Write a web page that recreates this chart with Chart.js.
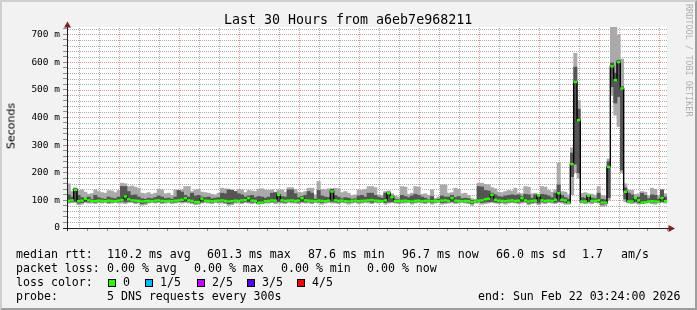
<!DOCTYPE html>
<html>
<head>
<meta charset="utf-8">
<title>Last 30 Hours from a6eb7e968211</title>
<script src="https://cdn.jsdelivr.net/npm/chart.js@4.4.1/dist/chart.umd.min.js"></script>
<style>
  html, body { margin: 0; padding: 0; }
  body { width: 697px; height: 310px; position: relative; overflow: hidden; background: #f2f2f2; font-family: "DejaVu Sans Mono", monospace; color: #000; }
  #frame { position: absolute; left: 0; top: 0; width: 697px; height: 310px; box-sizing: border-box; border-style: solid; border-width: 2px; border-color: #cfcfcf #9e9e9e #9e9e9e #cfcfcf; pointer-events: none; }
  #chart { position: absolute; left: 0; top: 0; }
  .txt { position: absolute; white-space: pre; font-size: 11.6px; line-height: 14px; }
  .title { position: absolute; left: 224px; top: 12px; font-size: 13.3px; line-height: 16px; white-space: pre; }
  .ylab { position: absolute; left: 11px; top: 126px; font-family: "DejaVu Sans", sans-serif; font-size: 11px; line-height: 13px; font-weight: normal; color: #000; white-space: pre; transform: translate(-50%, -50%) rotate(-90deg); }
  .credit { position: absolute; left: 684px; top: 4px; writing-mode: vertical-rl; font-size: 8.5px; color: #b0b0b0; white-space: pre; }
  .sw { position: absolute; top: 279px; width: 6px; height: 6px; border: 1px solid #000; }
</style>
</head>
<body>
<canvas id="chart" width="697" height="310"></canvas>
<div class="title">Last 30 Hours from a6eb7e968211</div>
<div class="ylab">Seconds</div>
<div class="credit">RRDTOOL / TOBI OETIKER</div>

<div class="txt" style="left:16px;top:247px">median rtt:</div>
<div class="txt" style="left:107px;top:247px">110.2 ms avg</div>
<div class="txt" style="left:207px;top:247px">601.3 ms max</div>
<div class="txt" style="left:308px;top:247px">87.6 ms min</div>
<div class="txt" style="left:402px;top:247px">96.7 ms now</div>
<div class="txt" style="left:496px;top:247px">66.0 ms sd</div>
<div class="txt" style="left:582px;top:247px">1.7</div>
<div class="txt" style="left:621px;top:247px">am/s</div>

<div class="txt" style="left:16px;top:261px">packet loss:</div>
<div class="txt" style="left:107px;top:261px">0.00 % avg</div>
<div class="txt" style="left:194px;top:261px">0.00 % max</div>
<div class="txt" style="left:281px;top:261px">0.00 % min</div>
<div class="txt" style="left:367px;top:261px">0.00 % now</div>

<div class="txt" style="left:16px;top:275px">loss color:</div>
<div class="sw" style="left:108px;background:#26ff00"></div>
<div class="txt" style="left:123px;top:275px">0</div>
<div class="sw" style="left:145px;background:#00b8ff"></div>
<div class="txt" style="left:160px;top:275px">1/5</div>
<div class="sw" style="left:197px;background:#cc00ff"></div>
<div class="txt" style="left:212px;top:275px">2/5</div>
<div class="sw" style="left:247px;background:#5500ff"></div>
<div class="txt" style="left:262px;top:275px">3/5</div>
<div class="sw" style="left:297px;background:#ff0000"></div>
<div class="txt" style="left:312px;top:275px">4/5</div>

<div class="txt" style="left:16px;top:289px">probe:</div>
<div class="txt" style="left:107px;top:289px">5 DNS requests every 300s</div>
<div class="txt" style="left:478px;top:289px">end: Sun Feb 22 03:24:00 2026</div>
<div id="frame"></div>

<script>
// time in minutes after Fri 00:00, one bin every 10 minutes
const startMinute = 1284;   // Fri 21:24
const endMinute = 3084;     // Sun 03:24
const stepMinutes = 10;

const medianRtt = [
  98, 100, 138, 97, 99, 106, 100, 98, 97, 99,
  98, 97, 99, 98, 97, 99, 101, 114, 104, 100,
  99, 98, 96, 97, 98, 97, 99, 100, 98, 97,
  98, 97, 99, 100, 102, 108, 100, 98, 94, 94,
  106, 99, 98, 97, 98, 99, 100, 98, 96, 97,
  99, 98, 100, 101, 108, 99, 98, 91, 92, 97,
  98, 100, 99, 120, 100, 98, 99, 100, 98, 99,
  108, 100, 99, 98, 97, 99, 98, 97, 99, 132,
  100, 98, 99, 97, 96, 98, 99, 97, 98, 99,
  100, 101, 99, 98, 97, 100, 126, 112, 98, 97,
  98, 99, 97, 96, 98, 99, 97, 98, 99, 97,
  98, 97, 99, 100, 98, 108, 99, 98, 97, 98,
  97, 94, 96, 99, 100, 104, 106, 120, 102, 99,
  98, 97, 99, 100, 98, 99, 108, 100, 96, 98,
  99, 118, 100, 98, 99, 98, 102, 126, 102, 100,
  92, 231, 528, 390, 96, 96, 117, 98, 98, 100,
  92, 92, 221, 585, 535, 600, 505, 131, 96, 96,
  108, 100, 92, 93, 96, 97, 96, 95, 108, 97
];

// smoke: outer band (lowest to highest ping)
const smokeLow = [
  90, 92, 92, 84, 86, 92, 90, 90, 88, 92,
  90, 92, 88, 90, 92, 90, 90, 88, 92, 92,
  88, 90, 82, 84, 90, 92, 90, 92, 88, 90,
  92, 88, 90, 92, 90, 92, 90, 88, 84, 86,
  90, 92, 90, 88, 92, 90, 90, 88, 82, 84,
  90, 90, 88, 92, 90, 88, 90, 86, 88, 90,
  90, 92, 88, 90, 90, 88, 92, 90, 90, 88,
  92, 90, 90, 88, 92, 90, 86, 90, 92, 90,
  90, 88, 92, 90, 86, 90, 92, 88, 90, 92,
  90, 88, 92, 90, 92, 86, 90, 92, 90, 88,
  90, 90, 92, 86, 90, 92, 90, 88, 92, 86,
  90, 92, 86, 88, 90, 92, 88, 90, 92, 90,
  88, 82, 90, 90, 86, 88, 90, 92, 90, 88,
  90, 86, 90, 92, 90, 88, 90, 92, 84, 88,
  90, 84, 90, 88, 92, 90, 88, 92, 90, 86,
  86, 120, 200, 180, 90, 88, 90, 88, 92, 90,
  78, 80, 100, 480, 408, 367, 200, 95, 90, 88,
  90, 86, 88, 90, 92, 88, 86, 90, 92, 90
];

const smokeHigh = [
  160, 132, 144, 135, 138, 130, 122, 125, 138, 132,
  128, 126, 135, 134, 128, 136, 162, 160, 150, 152,
  148, 144, 126, 124, 128, 122, 126, 140, 138, 124,
  126, 118, 138, 136, 138, 150, 150, 132, 138, 140,
  130, 128, 126, 122, 120, 126, 144, 142, 140, 138,
  132, 140, 138, 128, 136, 134, 132, 140, 142, 138,
  136, 138, 130, 138, 138, 130, 146, 146, 140, 130,
  128, 132, 144, 144, 120, 168, 140, 138, 142, 142,
  144, 142, 128, 132, 126, 118, 120, 138, 136, 140,
  150, 150, 146, 120, 118, 132, 134, 124, 116, 112,
  150, 148, 122, 126, 150, 148, 122, 124, 118, 138,
  108, 112, 156, 156, 126, 128, 144, 140, 124, 126,
  118, 106, 104, 162, 162, 158, 156, 146, 142, 130,
  128, 132, 136, 134, 144, 126, 124, 150, 148, 124,
  126, 120, 150, 148, 136, 130, 138, 234, 132, 130,
  120, 290, 632, 462, 125, 128, 124, 122, 118, 150,
  118, 116, 250, 735, 735, 697, 611, 160, 138, 136,
  122, 124, 132, 130, 116, 144, 140, 118, 138, 124
];

// smoke: inner band (2nd to 4th ping)
const smokeInnerLow = [
  94, 95, 96, 90, 92, 95, 94, 95, 93, 95,
  94, 95, 93, 94, 95, 94, 96, 94, 96, 95,
  93, 94, 88, 90, 94, 95, 94, 95, 93, 94,
  95, 93, 94, 96, 95, 96, 95, 93, 90, 91,
  94, 95, 94, 93, 95, 94, 95, 93, 88, 90,
  94, 95, 93, 95, 94, 93, 94, 89, 90, 94,
  94, 95, 94, 95, 94, 93, 96, 95, 94, 93,
  95, 94, 95, 93, 95, 94, 92, 94, 95, 96,
  94, 93, 95, 94, 92, 94, 95, 93, 94, 95,
  95, 93, 95, 94, 95, 92, 94, 95, 94, 93,
  94, 95, 95, 92, 94, 95, 94, 93, 95, 92,
  94, 95, 92, 93, 94, 95, 93, 94, 95, 94,
  93, 88, 94, 95, 92, 94, 95, 96, 94, 93,
  94, 92, 94, 95, 94, 93, 95, 96, 90, 93,
  94, 90, 95, 93, 95, 94, 93, 96, 95, 92,
  90, 186, 231, 200, 94, 93, 95, 94, 95, 94,
  86, 88, 110, 511, 452, 475, 210, 105, 95, 94,
  95, 92, 90, 91, 96, 94, 92, 95, 96, 95
];

const smokeInnerHigh = [
  120, 112, 144, 118, 110, 106, 112, 104, 118, 110,
  106, 104, 112, 108, 106, 112, 150, 150, 132, 118,
  120, 112, 106, 104, 108, 106, 110, 116, 112, 106,
  108, 104, 112, 136, 130, 118, 112, 126, 116, 118,
  112, 110, 112, 106, 108, 110, 126, 124, 138, 136,
  132, 124, 120, 112, 116, 118, 110, 114, 112, 108,
  112, 126, 128, 120, 114, 112, 138, 138, 124, 110,
  114, 118, 132, 126, 104, 136, 116, 112, 110, 140,
  118, 112, 106, 110, 108, 104, 106, 116, 118, 112,
  126, 126, 118, 112, 108, 126, 130, 116, 104, 102,
  118, 114, 110, 116, 122, 118, 112, 108, 104, 114,
  102, 104, 116, 112, 112, 118, 110, 114, 106, 108,
  106, 100, 98, 150, 148, 136, 134, 126, 120, 114,
  112, 116, 118, 120, 118, 120, 114, 122, 120, 108,
  120, 118, 122, 120, 116, 110, 126, 156, 118, 110,
  104, 271, 582, 430, 110, 108, 118, 108, 106, 126,
  104, 102, 240, 597, 560, 607, 511, 145, 126, 120,
  110, 112, 126, 118, 106, 120, 118, 104, 138, 112
];

const xLabelMinutes = [1440, 1800, 2160, 2520, 2880];
const xLabelText = ['Sat 00:00', 'Sat 06:00', 'Sat 12:00', 'Sat 18:00', 'Sun 00:00'];
const yMax = 727;

const binX = medianRtt.map((_, i) => startMinute + stepMinutes * i + stepMinutes / 2);
const outerBand = binX.map((x, i) => ({ x: x, y: [smokeLow[i], smokeHigh[i]] }));
const innerBand = binX.map((x, i) => ({ x: x, y: [smokeInnerLow[i], smokeInnerHigh[i]] }));
const medianPts = binX.map((x, i) => ({ x: x, y: medianRtt[i] }));

// rrdtool default grid colours
const minorGrid = 'rgba(143,143,143,0.75)';
const majorGrid = 'rgba(222,79,79,0.6)';
const axisColor = '#1f1f1f';
const arrowColor = '#801f1f';

const rrdFrame = {
  id: 'rrdFrame',
  beforeDraw(chart) {
    const { ctx, chartArea: a } = chart;
    ctx.save();
    ctx.fillStyle = '#ffffff';
    ctx.fillRect(a.left, a.top, a.right - a.left, a.bottom - a.top);
    ctx.restore();
  },
  // dotted grid behind the smoke so the median stays bright green
  beforeDatasetsDraw(chart) {
    const { ctx, chartArea: a } = chart;
    const xs = chart.scales.x;
    const ys = chart.scales.y;
    const top = Math.round(a.top);
    const bottom = Math.round(a.bottom);
    ctx.save();
    for (let m = Math.ceil(xs.min / 60) * 60; m <= xs.max; m += 60) {
      const px = Math.round(xs.left + (m - xs.min) / (xs.max - xs.min) * (xs.right - xs.left));
      ctx.fillStyle = m % 180 === 0 ? majorGrid : minorGrid;
      for (let py = top + 1; py < bottom; py += 2) ctx.fillRect(px, py, 1, 1);
    }
    for (let v = 20; v <= yMax; v += 20) {
      const py = Math.round(ys.getPixelForValue(v));
      ctx.fillStyle = v % 100 === 0 ? majorGrid : minorGrid;
      for (let px = Math.round(a.left) + 1; px < a.right; px += 2) ctx.fillRect(px, py, 1, 1);
    }
    ctx.restore();
  },
  afterDraw(chart) {
    const { ctx, chartArea: a } = chart;
    ctx.save();
    ctx.strokeStyle = axisColor;
    ctx.lineWidth = 1;
    ctx.beginPath();
    ctx.moveTo(a.left - 4, a.bottom + 0.5);
    ctx.lineTo(a.right + 2, a.bottom + 0.5);
    ctx.moveTo(a.left + 0.5, a.bottom + 3);
    ctx.lineTo(a.left + 0.5, a.top);
    ctx.stroke();
    ctx.fillStyle = arrowColor;
    ctx.beginPath();
    ctx.moveTo(a.left + 0.5, a.top - 5.5);
    ctx.lineTo(a.left - 3, a.top + 0.5);
    ctx.lineTo(a.left + 4, a.top + 0.5);
    ctx.closePath();
    ctx.fill();
    ctx.beginPath();
    ctx.moveTo(a.right + 8, a.bottom + 0.5);
    ctx.lineTo(a.right + 1.5, a.bottom - 3);
    ctx.lineTo(a.right + 1.5, a.bottom + 4);
    ctx.closePath();
    ctx.fill();
    ctx.restore();
  }
};

Chart.defaults.font.family = '"DejaVu Sans Mono", monospace';

new Chart(document.getElementById('chart'), {
  type: 'bar',
  data: {
    datasets: [
      {
        type: 'line',
        label: 'median',
        data: medianPts,
        showLine: false,
        pointStyle: 'line',
        pointRadius: 1.8,
        pointBorderWidth: 2.4,
        pointBorderColor: '#26ff00',
        pointBackgroundColor: '#26ff00',
        order: 1
      },
      {
        type: 'line',
        label: 'median step',
        data: medianPts,
        stepped: 'middle',
        borderColor: '#000000',
        borderWidth: 1.4,
        pointRadius: 0,
        order: 2
      },
      {
        label: 'inner smoke',
        data: innerBand,
        backgroundColor: '#555555',
        borderWidth: 0,
        grouped: false,
        barPercentage: 1,
        categoryPercentage: 1,
        order: 3
      },
      {
        label: 'outer smoke',
        data: outerBand,
        backgroundColor: '#aaaaaa',
        borderWidth: 0,
        grouped: false,
        barPercentage: 1,
        categoryPercentage: 1,
        order: 4
      }
    ]
  },
  options: {
    responsive: false,
    animation: false,
    layout: { padding: { left: 0, right: 30, top: 27, bottom: 0 } },
    plugins: { legend: { display: false }, tooltip: { enabled: false }, title: { display: false } },
    scales: {
      x: {
        type: 'linear',
        min: startMinute,
        max: endMinute,
        offset: false,
        afterFit(scale) { scale.height = 82; },
        grid: {
          offset: false,
          drawOnChartArea: false,
          tickColor: '#8f8f8f',
          tickLength: 3
        },
        border: { display: false },
        ticks: {
          stepSize: 60,
          maxTicksLimit: 100,
          includeBounds: false,
          autoSkip: false,
          maxRotation: 0,
          padding: 1,
          color: '#000000',
          font: { size: 9.5 },
          callback: (v) => {
            const k = xLabelMinutes.indexOf(v);
            return k >= 0 ? xLabelText[k] : '';
          }
        }
      },
      y: {
        type: 'linear',
        min: 0,
        max: yMax,
        afterFit(scale) { scale.width = 67; },
        grid: {
          drawOnChartArea: false,
          tickColor: '#8f8f8f',
          tickLength: 4
        },
        border: { display: false },
        ticks: {
          stepSize: 20,
          maxTicksLimit: 100,
          includeBounds: false,
          autoSkip: false,
          padding: 3,
          color: '#000000',
          font: { size: 9.5 },
          callback: (v) => (v % 100 === 0 ? (v === 0 ? '0' : v + ' m') : '')
        }
      }
    }
  },
  plugins: [rrdFrame]
});
</script>
</body>
</html>
